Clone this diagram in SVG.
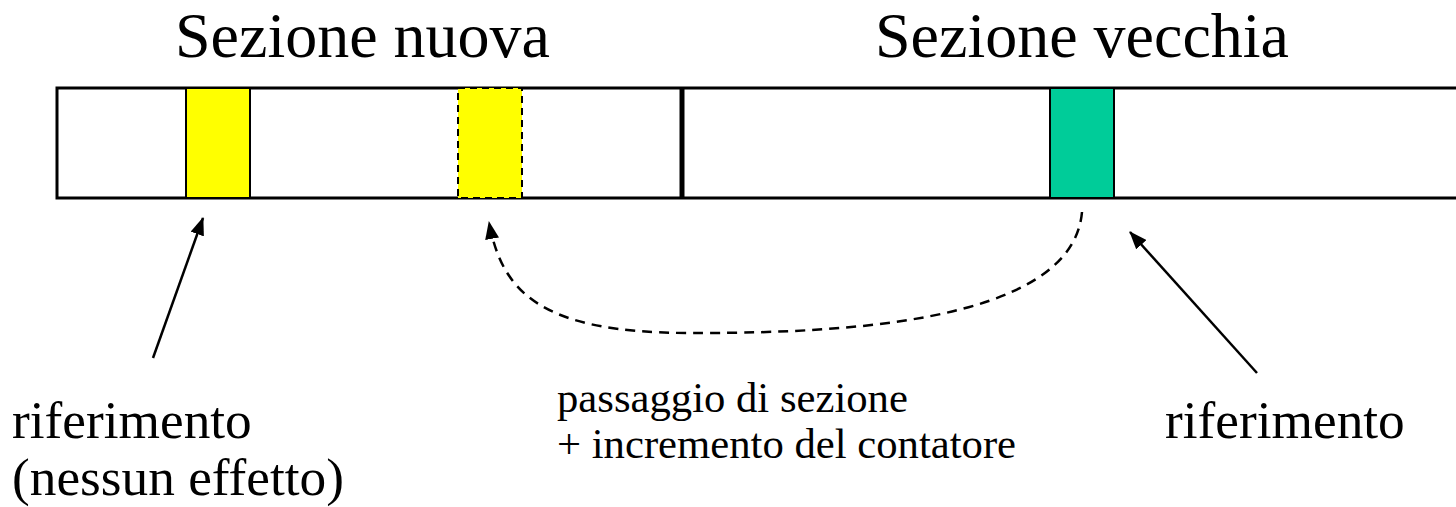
<svg xmlns="http://www.w3.org/2000/svg" width="1456" height="507" viewBox="0 0 1456 507">
<style>
text{font-family:"Liberation Serif","Times New Roman",serif;fill:#000;font-variant-ligatures:none;font-feature-settings:"liga" 0}
.big{font-size:64px}
.mid{font-size:53.3px}
.sm{font-size:42.7px}
.ln{stroke:#000;stroke-width:2.5;fill:none}
</style>
<defs>
<marker id="ahb" markerWidth="18" markerHeight="14" refX="17" refY="7" orient="auto" markerUnits="userSpaceOnUse" viewBox="0 0 18 14">
<path d="M0,0 L18,7 L0,14 Z" fill="#000"/>
</marker>
</defs>
<rect width="1456" height="507" fill="#fff"/>
<g id="memoria">
<path d="M1460,88 L57,88 L57,198 L1460,198" fill="#fff" stroke="#000" stroke-width="3"/>
<line x1="682" y1="88" x2="682" y2="198" stroke="#000" stroke-width="5"/>
</g>
<g id="rif-nuovo">
<rect x="186" y="88" width="64" height="110" fill="#ffff00" stroke="#000" stroke-width="2"/>
</g>
<g id="rif-copiato">
<rect x="458" y="88" width="64" height="110" fill="#ffff00" stroke="#000" stroke-width="2" stroke-dasharray="7,5"/>
</g>
<g id="rif-vecchio">
<rect x="1050" y="88" width="64" height="110" fill="#00cc99" stroke="#000" stroke-width="2"/>
</g>
<g id="connettori">
<line class="ln" x1="153" y1="358" x2="203" y2="218" marker-end="url(#ahb)"/>
<line class="ln" x1="1257" y1="373" x2="1130" y2="232" marker-end="url(#ahb)"/>
<path class="ln" d="M1082,212 C1072,328 820,333 690,333 C540,333 502,292 489,222" stroke-width="2.8" stroke-dasharray="10,7" marker-end="url(#ahb)"/>
</g>
<g id="etichette">
<text class="big" x="175" y="57">Sezione nuova</text>
<text class="big" x="875" y="57">Sezione vecchia</text>
<text class="mid" x="12" y="438">riferimento</text>
<text class="mid" x="12" y="495">(nessun effetto)</text>
<text class="sm" x="557" y="412">passaggio di sezione</text>
<text class="sm" x="557" y="458">+ incremento del contatore</text>
<text class="mid" x="1165" y="438">riferimento</text>
</g>
</svg>
